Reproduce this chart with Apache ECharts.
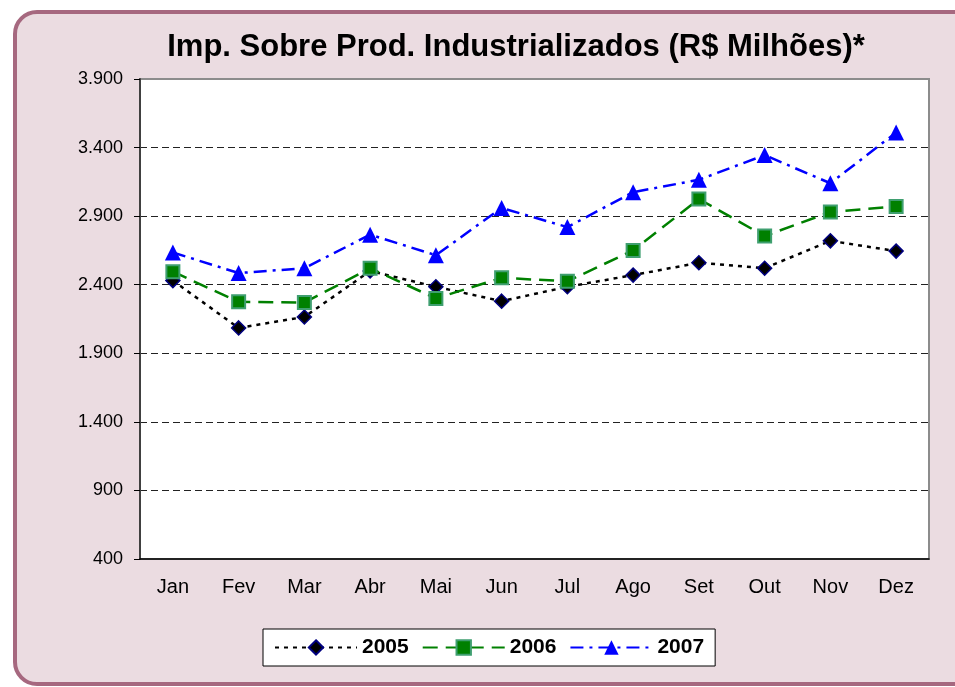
<!DOCTYPE html>
<html>
<head>
<meta charset="utf-8">
<script src="https://cdn.jsdelivr.net/npm/echarts@6/dist/echarts.min.js"></script>
<style>
  html, body { margin: 0; padding: 0; background: #fff; }
  #chart { width: 955px; height: 687px; }
</style>
</head>
<body>
<div id="chart"></div>
<script>
// meses e valores (R$ milhões)
const months = ['Jan', 'Fev', 'Mar', 'Abr', 'Mai', 'Jun', 'Jul', 'Ago', 'Set', 'Out', 'Nov', 'Dez'];
const v2005 = [2430, 2085, 2165, 2500, 2385, 2280, 2385, 2470, 2560, 2520, 2720, 2645];
const v2006 = [2495, 2275, 2270, 2520, 2300, 2450, 2425, 2650, 3025, 2755, 2930, 2970];
const v2007 = [2635, 2485, 2520, 2765, 2615, 2960, 2820, 3075, 3165, 3345, 3140, 3510];

const FONT = "'Liberation Sans', Arial, sans-serif";

// 3900 -> "3.900"
const fmt = (v) => String(v).replace(/\B(?=(\d{3})+(?!\d))/g, '.');

const chart = echarts.init(document.getElementById('chart'));

const option = {
  backgroundColor: '#ffffff',
  animation: false,
  textStyle: { fontFamily: FONT },
  graphic: [{
    type: 'rect',
    z: -10,
    silent: true,
    shape: { x: 15, y: 12, width: 980, height: 672, r: 22 },
    style: { fill: '#ebdce1', stroke: '#a6687f', lineWidth: 4 }
  }],
  title: {
    text: 'Imp. Sobre Prod. Industrializados (R$ Milhões)*',
    left: 511,
    textAlign: 'center',
    top: 27,
    textStyle: { fontFamily: FONT, fontSize: 31, fontWeight: 'bold', color: '#000' }
  },
  legend: {
    data: ['2005', '2006', '2007'],
    left: 263,
    top: 629,
    padding: [8, 11],
    itemWidth: 82,
    itemHeight: 18,
    itemGap: 13,
    backgroundColor: '#ffffff',
    borderColor: '#000',
    borderWidth: 1,
    borderRadius: 0,
    textStyle: { fontFamily: FONT, fontSize: 21, fontWeight: 'bold', color: '#000' }
  },
  grid: {
    left: 140, right: 26, top: 79, bottom: 128,
    show: true,
    backgroundColor: '#ffffff',
    borderColor: '#8c8c8c',
    borderWidth: 2
  },
  xAxis: [{
    type: 'category',
    data: months,
    boundaryGap: true,
    axisLine: { lineStyle: { color: '#000', width: 1.5 } },
    axisTick: { length: 6, lineStyle: { color: '#000' } },
    axisLabel: { color: '#000', fontSize: 20, fontFamily: FONT, margin: 18 }
  }, {
    type: 'category',
    data: months,
    position: 'bottom',
    boundaryGap: true,
    axisLine: { show: false },
    axisTick: { inside: true, alignWithLabel: true, length: 5, lineStyle: { color: '#000' } },
    axisLabel: { show: false }
  }],
  yAxis: {
    type: 'value',
    min: 400,
    max: 3900,
    interval: 500,
    axisLine: { show: true, lineStyle: { color: '#404040', width: 2 } },
    axisTick: { show: true, length: 6, lineStyle: { color: '#000' } },
    axisLabel: { color: '#000', fontSize: 18, fontFamily: FONT, margin: 17, formatter: fmt },
    splitLine: {
      show: true,
      showMinLine: false,
      showMaxLine: false,
      lineStyle: { color: '#222', type: [7, 4], width: 1 }
    }
  },
  series: [{
    name: '2005',
    type: 'line',
    data: v2005,
    symbol: 'diamond',
    symbolSize: 14,
    itemStyle: { color: '#000000', borderColor: '#000080', borderWidth: 1.5 },
    lineStyle: { color: '#000000', width: 2.5, type: [4, 5] },
    z: 3
  }, {
    name: '2006',
    type: 'line',
    data: v2006,
    symbol: 'rect',
    symbolSize: 13,
    itemStyle: { color: '#008000', borderColor: '#3f9f70', borderWidth: 2 },
    lineStyle: { color: '#008000', width: 2.5, type: [15, 8] },
    z: 4
  }, {
    name: '2007',
    type: 'line',
    data: v2007,
    symbol: 'triangle',
    symbolSize: 16,
    itemStyle: { color: '#0000ff' },
    lineStyle: { color: '#0000ff', width: 2.5, type: [13, 6, 3, 6] },
    z: 5
  }]
};

chart.setOption(option);
</script>
</body>
</html>
